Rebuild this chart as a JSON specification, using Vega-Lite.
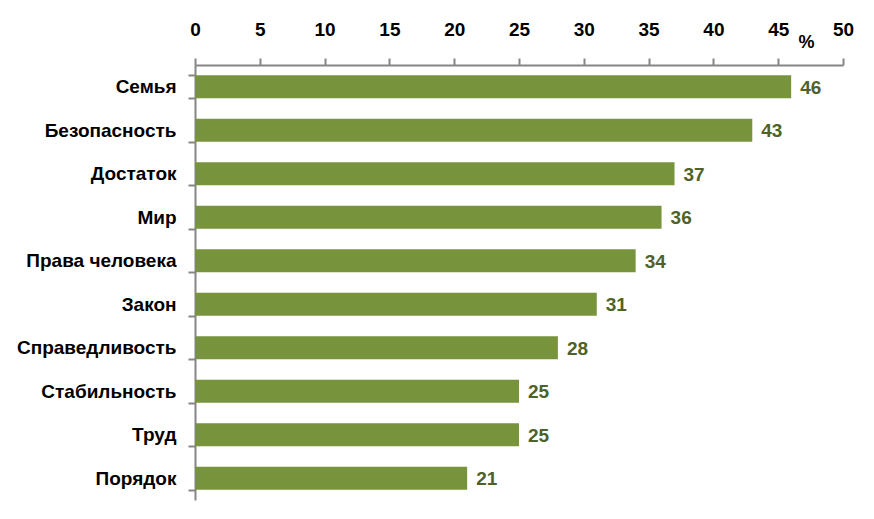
{
  "$schema": "https://vega.github.io/schema/vega-lite/v6.json",
  "width": 648,
  "height": 435,
  "autosize": {"type": "none"},
  "padding": {"left": 195, "top": 65, "right": 31, "bottom": 19},
  "background": "white",
  "data": {"values": [
    {"item": "Семья", "value": 46},
    {"item": "Безопасность", "value": 43},
    {"item": "Достаток", "value": 37},
    {"item": "Мир", "value": 36},
    {"item": "Права человека", "value": 34},
    {"item": "Закон", "value": 31},
    {"item": "Справедливость", "value": 28},
    {"item": "Стабильность", "value": 25},
    {"item": "Труд", "value": 25},
    {"item": "Порядок", "value": 21}
  ]},
  "config": {
    "view": {"stroke": null},
    "font": "Liberation Sans"
  },
  "encoding": {
    "y": {
      "field": "item", "type": "nominal", "sort": null,
      "scale": {"paddingInner": 0.47, "paddingOuter": 0.235},
      "axis": {
        "title": null, "tickBand": "extent", "domainColor": "#868686", "tickColor": "#868686",
        "domainWidth": 2, "tickWidth": 2, "tickSize": 7,
        "labelFont": "Liberation Sans", "labelFontWeight": "bold", "labelFontSize": 19,
        "labelColor": "#000000", "labelPadding": 12
      }
    },
    "x": {
      "field": "value", "type": "quantitative",
      "scale": {"domain": [0, 50], "nice": false},
      "axis": {
        "orient": "top", "values": [0,5,10,15,20,25,30,35,40,45,50], "grid": false, "labelFlush": false,
        "domainColor": "#868686", "tickColor": "#868686", "domainWidth": 2, "tickWidth": 2, "tickSize": 7,
        "labelFont": "Liberation Sans", "labelFontWeight": "bold", "labelFontSize": 19,
        "labelColor": "#000000", "labelPadding": 19,
        "title": "%", "titleX": 611, "titleY": -23, "titleAlign": "center", "titleBaseline": "middle",
        "titleFont": "Liberation Sans", "titleFontWeight": "bold", "titleFontSize": 18, "titleColor": "#000000", "titleAngle": 0
      }
    }
  },
  "layer": [
    {"mark": {"type": "bar", "color": "#77933C"}},
    {"mark": {"type": "text", "align": "left", "dx": 9, "dy": 1, "baseline": "middle", "font": "Liberation Sans", "fontWeight": "bold", "fontSize": 19, "color": "#4F6228"},
     "encoding": {"text": {"field": "value", "type": "quantitative"}}}
  ]
}
